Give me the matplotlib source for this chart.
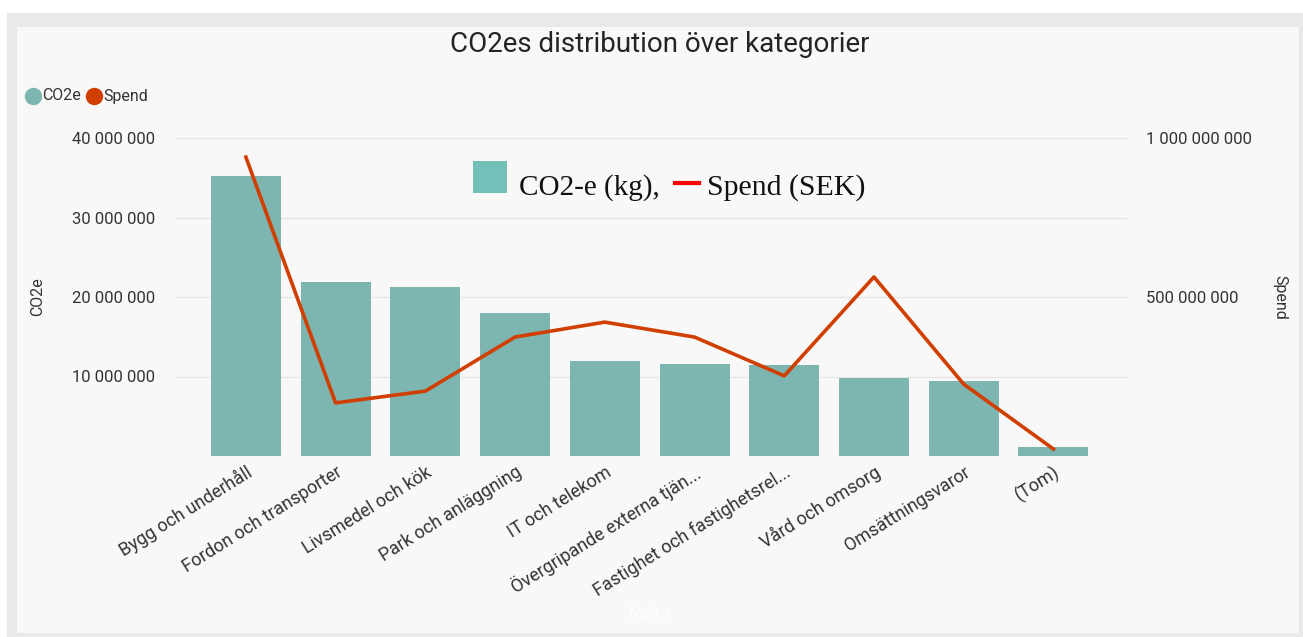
import matplotlib
matplotlib.use("Agg")
import matplotlib.pyplot as plt
from matplotlib.patches import Rectangle
from matplotlib.lines import Line2D
from matplotlib.ticker import FuncFormatter

categories = ["Bygg och underhåll", "Fordon och transporter", "Livsmedel och kök",
              "Park och anläggning", "IT och telekom", "Övergripande externa tjän...",
              "Fastighet och fastighetsrel...", "Vård och omsorg", "Omsättningsvaror", "(Tom)"]
co2e = [35.2e6, 21.9e6, 21.3e6, 18.0e6, 11.95e6, 11.6e6, 11.45e6, 9.8e6, 9.45e6, 1.1e6]
spend = [940e6, 167e6, 204e6, 374e6, 421e6, 374e6, 252e6, 563e6, 226e6, 22e6]
left_ticks = [10e6, 20e6, 30e6, 40e6]
right_ticks = [500e6, 1000e6]

W, H = 1303, 637
fig = plt.figure(figsize=(W / 100, H / 100), dpi=100)
fig.patch.set_facecolor("white")
plt.rcParams['font.family'] = ['Roboto', 'DejaVu Sans']

def fx(x): return x / W
def fy(y): return 1 - y / H

# background panels
fig.patches.append(Rectangle((fx(7), fy(637)), fx(1303) - fx(7), fy(13) - fy(637),
                             transform=fig.transFigure, facecolor="#e9e9e9", edgecolor="none", zorder=-10))
fig.patches.append(Rectangle((fx(17), fy(633)), fx(1299) - fx(17), fy(27) - fy(633),
                             transform=fig.transFigure, facecolor="#f8f8f8", edgecolor="none", zorder=-9))

ax_l, ax_r = 175, 1127
ax = fig.add_axes([fx(ax_l), fy(456), fx(ax_r) - fx(ax_l), fy(138) - fy(456)])
ax.set_facecolor("none")
bar_color = "#7db5b1"
line_color = "#d13f00"
text_color = "#333333"

x = list(range(len(categories)))
ax.bar(x, co2e, width=0.78, color=bar_color, zorder=2)
ax.set_xlim(-0.79, 9.82)
ax.set_ylim(0, 40e6)
ax.set_yticks([0] + left_ticks)
fmt = lambda v, p: "" if v == 0 else f"{int(v):,}".replace(",", " ")
ax.yaxis.set_major_formatter(FuncFormatter(fmt))
ax.grid(axis="y", color="#e6e6e6", linewidth=1, zorder=0)
for s in ax.spines.values():
    s.set_visible(False)
ax.tick_params(axis="y", length=0, pad=14, labelsize=12, labelcolor=text_color)
ax.tick_params(axis="x", length=0, pad=5, labelsize=13, labelcolor=text_color)
ax.set_xticks(x)
ax.set_xticklabels(categories, rotation=32, ha="right", rotation_mode="anchor")
ax.set_ylabel("CO2e", fontsize=11.5, color=text_color, va="center")
ax.yaxis.set_label_coords((38 - ax_l) / (ax_r - ax_l), 0.5)

ax2 = ax.twinx()
ax2.set_ylim(0, 1e9)
ax2.plot(x, spend, color=line_color, linewidth=2.6, zorder=3)
ax2.set_yticks(right_ticks)
ax2.yaxis.set_major_formatter(FuncFormatter(fmt))
for s in ax2.spines.values():
    s.set_visible(False)
ax2.tick_params(axis="y", length=0, pad=14, labelsize=12, labelcolor=text_color)
ax2.set_ylabel("Spend", fontsize=11.5, color=text_color, rotation=270, va="center")
ax2.yaxis.set_label_coords((1280 - ax_l) / (ax_r - ax_l), 0.5)

# title
fig.text(fx(660), fy(45), "CO2es distribution över kategorier", ha="center", va="center",
         fontsize=20, color="#252423")

# legend
fig.add_artist(Line2D([fx(33)], [fy(96)], marker="o", markersize=11.5, color=bar_color,
                      linestyle="none", transform=fig.transFigure))
fig.text(fx(42), fy(96), "CO2e", ha="left", va="center", fontsize=11.5, color=text_color)
fig.add_artist(Line2D([fx(94)], [fy(96)], marker="o", markersize=11.5, color=line_color,
                      linestyle="none", transform=fig.transFigure))
fig.text(fx(103), fy(96), "Spend", ha="left", va="center", fontsize=11.5, color=text_color)

# overlay annotation
fig.patches.append(Rectangle((fx(473), fy(193)), fx(507) - fx(473), fy(161) - fy(193),
                             transform=fig.transFigure, facecolor="#72c0b8", edgecolor="none", zorder=5))
fig.text(fx(519), fy(195), "CO2-e (kg),", ha="left", va="baseline", fontsize=21,
         family="Liberation Serif", color="#111111", zorder=6)
fig.add_artist(Line2D([fx(675), fx(699)], [fy(183), fy(183)], color="#ff0000", linewidth=3,
                      transform=fig.transFigure, zorder=6))
fig.text(fx(707), fy(195), "Spend (SEK)", ha="left", va="baseline", fontsize=21.5,
         family="Liberation Serif", color="#111111", zorder=6)

fig.text(fx(650), fy(614), "Nivå 1", ha="center", va="center", fontsize=11, color="white")

fig.savefig("out.png", dpi=100, facecolor=fig.get_facecolor())
